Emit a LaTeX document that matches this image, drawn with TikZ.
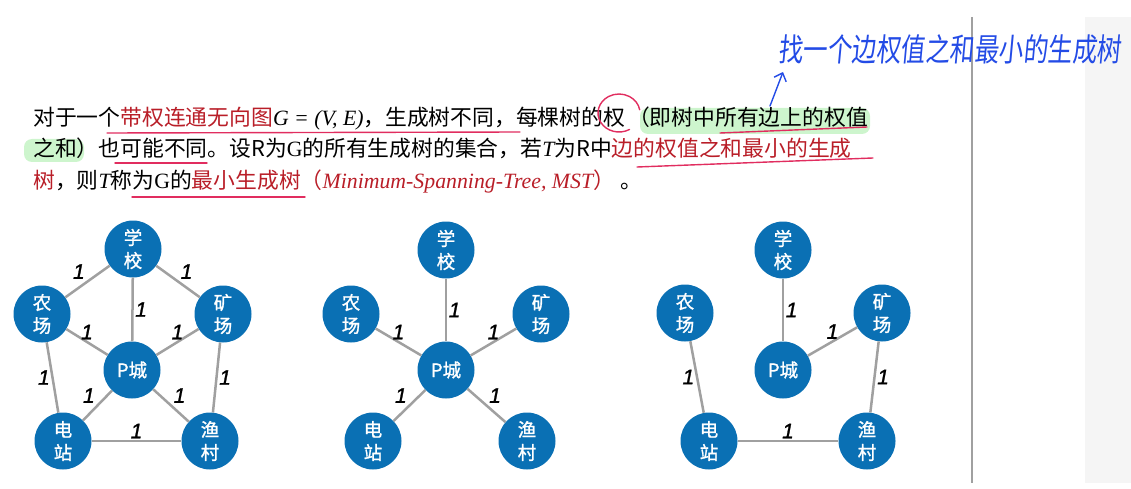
\documentclass[tikz,border=0pt]{standalone}
\usepackage{fontspec}
\usepackage{tikz}
\usetikzlibrary{arrows.meta,calc,positioning}
\newfontfamily\zh{Noto Sans CJK SC}
\newfontfamily\zhb[FakeBold=1.2]{Noto Sans CJK SC}
\newfontfamily\tms{Liberation Serif}
\newfontfamily\hel[FakeBold=1.2]{Liberation Sans}
\newfontfamily\hand[FakeSlant=0.12]{Noto Sans CJK SC}
\definecolor{cityblue}{RGB}{10,112,180}
\definecolor{linkgray}{RGB}{160,160,160}
\definecolor{keyred}{RGB}{185,30,40}
\definecolor{penred}{RGB}{225,45,95}
\definecolor{penblue}{RGB}{35,75,230}
\definecolor{marker}{RGB}{205,245,205}
\tikzstyle{city}=[circle,fill=cityblue,text=white,minimum size=57pt,inner sep=0pt,
  align=center,font=\zhb\fontsize{18.5}{23}\selectfont]
\tikzstyle{link}=[draw=linkgray,line width=2.5pt]
\tikzstyle{wt}=[font=\hel\itshape\fontsize{21}{21}\selectfont,inner sep=1.5pt]
\tikzstyle{txtline}=[anchor=base west,inner sep=0pt,font=\zh\fontsize{21.8}{26}\selectfont]
\tikzstyle{penline}=[draw=penred,line width=1.4pt,line cap=round]
\newcommand{\kw}[1]{\textcolor{keyred}{#1}}

\begin{document}
\begin{tikzpicture}[x=1pt,y=-1pt]
  \useasboundingbox (0,0) rectangle (1131,489);
  \fill[gray!8] (1085,17) rectangle (1131,483);
  \draw[linkgray,line width=2pt] (972,17) -- (972,483);
  \fill[marker,rounded corners=8pt] (640,108) rectangle (870,134);
  \fill[marker,rounded corners=8pt] (24,139) rectangle (84,162);

  \node[txtline] (line1) at (33,126) {对于一个\kw{带权连通无向图}{\tms\itshape G = (V, E)}，生成树不同，每棵树的权\hspace{3pt}（即树中所有边上的权值};
  \node[txtline] (line2) at (33,157) {之和）也可能不同。设R为{\tms G}的所有生成树的集合，若{\tms\itshape T}为R中\kw{边的权值之和最小的生成}};
  \node[txtline] (line3) at (33,188) {\kw{树}，则{\tms\itshape T}称为{\tms G}的\kw{最小生成树}\kw{（{\tms\itshape Minimum-Spanning-Tree, MST}）}\hspace{6pt}。};

  \draw[penline] (619,113) ++(60:21 and 19) arc[start angle=60,end angle=350,x radius=21,y radius=19];
  \draw[penline] (107,133) -- (520,132);
  \draw[penline] (720,133) -- (867,127);
  \draw[penline] (115,163) -- (207,163);
  \draw[penline] (637,167) -- (873,158);
  \draw[penline] (132,197) -- (305,197);

  \node[anchor=west,inner sep=0pt,text=penblue,yscale=1.3,
    font=\hand\fontsize{24.5}{24.5}\selectfont] (note) at (778,49) {找一个边权值之和最小的生成树};
  \coordinate (tail) at (770,106);
  \coordinate (tip) at (783,72);
  \draw[penblue,line width=1.4pt,line cap=round,-{Straight Barb[length=7pt,width=13pt]}] (tail) -- (tip);

  \node[city] (school1) at (133,249) {学\\校};
  \node[city] (farm1) at (42,314) {农\\场};
  \node[city] (mine1) at (223,314) {矿\\场};
  \node[city] (pcity1) at (132,370) {P城};
  \node[city] (power1) at (63,441) {电\\站};
  \node[city] (fish1) at (210,441) {渔\\村};
  \draw[link] (school1) -- node[wt,above left]{1} (farm1);
  \draw[link] (school1) -- node[wt,above right]{1} (mine1);
  \draw[link] (school1) -- node[wt,right]{1} (pcity1);
  \draw[link] (farm1) -- node[wt,above]{1} (pcity1);
  \draw[link] (mine1) -- node[wt,above]{1} (pcity1);
  \draw[link] (farm1) -- node[wt,left]{1} (power1);
  \draw[link] (mine1) -- node[wt,right]{1} (fish1);
  \draw[link] (pcity1) -- node[wt,above left]{1} (power1);
  \draw[link] (pcity1) -- node[wt,above right]{1} (fish1);
  \draw[link] (power1) -- node[wt,above]{1} (fish1);

  \node[city] (school2) at (446,250) {学\\校};
  \node[city] (farm2) at (351,314) {农\\场};
  \node[city] (mine2) at (541,314) {矿\\场};
  \node[city] (pcity2) at (446,370) {P城};
  \node[city] (power2) at (373,441) {电\\站};
  \node[city] (fish2) at (527,441) {渔\\村};
  \draw[link] (school2) -- node[wt,right]{1} (pcity2);
  \draw[link] (farm2) -- node[wt,above]{1} (pcity2);
  \draw[link] (mine2) -- node[wt,above]{1} (pcity2);
  \draw[link] (pcity2) -- node[wt,above left]{1} (power2);
  \draw[link] (pcity2) -- node[wt,above right]{1} (fish2);

  \node[city] (school3) at (783,250) {学\\校};
  \node[city] (farm3) at (685,313) {农\\场};
  \node[city] (mine3) at (882,313) {矿\\场};
  \node[city] (pcity3) at (783,370) {P城};
  \node[city] (power3) at (709,441) {电\\站};
  \node[city] (fish3) at (867,441) {渔\\村};
  \draw[link] (school3) -- node[wt,right]{1} (pcity3);
  \draw[link] (mine3) -- node[wt,above]{1} (pcity3);
  \draw[link] (farm3) -- node[wt,left]{1} (power3);
  \draw[link] (mine3) -- node[wt,right]{1} (fish3);
  \draw[link] (power3) -- node[wt,above]{1} (fish3);
\end{tikzpicture}
\end{document}
